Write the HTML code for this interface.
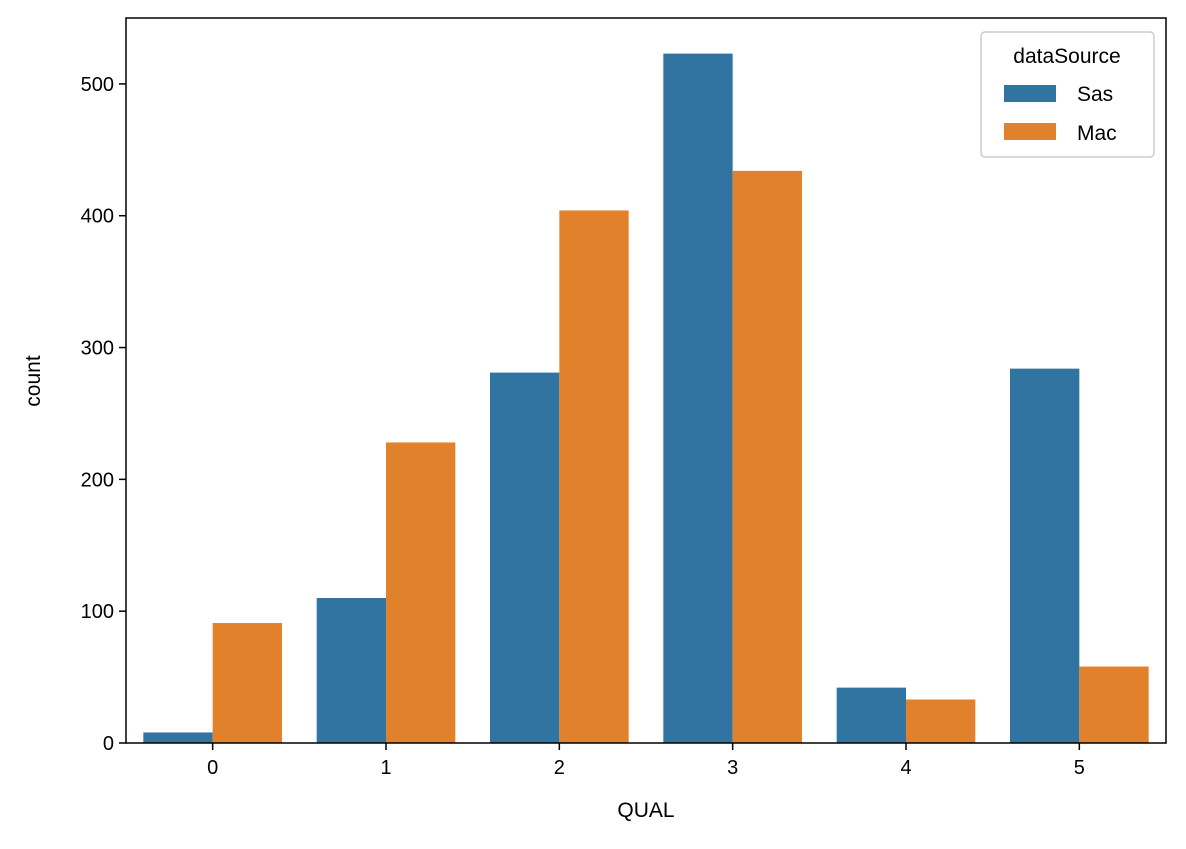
<!DOCTYPE html>
<html><head><meta charset="utf-8"><style>
body{margin:0;background:#fff;}
svg text{font-family:"Liberation Sans","DejaVu Sans",sans-serif;fill:#000;}
</style></head><body>
<svg id="chart" width="1186" height="844" xmlns="http://www.w3.org/2000/svg">
<g id="bars"></g>
<rect x="126" y="18" width="1040" height="725" fill="none" stroke="#000" stroke-width="1.5"/>
<g id="axes"></g>
<text x="646" y="817" font-size="21" text-anchor="middle">QUAL</text>
<text transform="translate(40,381) rotate(-90)" font-size="21" text-anchor="middle">count</text>
<g>
<rect x="981" y="32" width="173" height="125" rx="4" fill="#fff" fill-opacity="0.8" stroke="#ccc" stroke-width="1.5"/>
<text x="1067" y="63" font-size="21" text-anchor="middle">dataSource</text>
<rect x="1004" y="85" width="52" height="17" fill="#3274a1"/>
<text x="1077" y="101" font-size="21">Sas</text>
<rect x="1004" y="123" width="52" height="17" fill="#e1812c"/>
<text x="1077" y="140" font-size="21">Mac</text>
</g>
</svg>
<script>
const categories = ["0","1","2","3","4","5"];
const sasValues = [8,110,281,523,42,284];
const macValues = [91,228,404,434,33,58];
const yTicks = [0,100,200,300,400,500];

const L=126,R=1166,T=18,B=743,YMAX=550;
const step=(R-L)/6.0;
const xC=i=>L+step*(i+0.5);
const y=v=>B-(B-T)*v/YMAX;
const bw=step*0.4;
const NS="http://www.w3.org/2000/svg";
const bars=document.getElementById('bars');
const axes=document.getElementById('axes');
function mk(tag,attrs,parent){const e=document.createElementNS(NS,tag);for(const k in attrs)e.setAttribute(k,attrs[k]);parent.appendChild(e);return e;}
categories.forEach((c,i)=>{
  const a=mk('rect',{x:xC(i)-bw,y:y(sasValues[i]),width:bw,height:B-y(sasValues[i]),fill:'#3274a1'},bars);
  
  
  const b=mk('rect',{x:xC(i),y:y(macValues[i]),width:bw,height:B-y(macValues[i]),fill:'#e1812c'},bars);
  
  
  const t=mk('line',{x1:xC(i),x2:xC(i),y1:B,y2:B+7,stroke:'#000','stroke-width':1.5},axes);
  
  
  const l=mk('text',{x:xC(i),y:B+31,'font-size':20,'text-anchor':'middle'},axes);
  l.textContent=c;
  
  
});
yTicks.forEach(v=>{
  const t=mk('line',{x1:L-7,x2:L,y1:y(v),y2:y(v),stroke:'#000','stroke-width':1.5},axes);
  
  
  const l=mk('text',{x:L-12,y:y(v)+7,'font-size':20,'text-anchor':'end'},axes);
  l.textContent=v;
  
  
});
</script>
</body></html>
